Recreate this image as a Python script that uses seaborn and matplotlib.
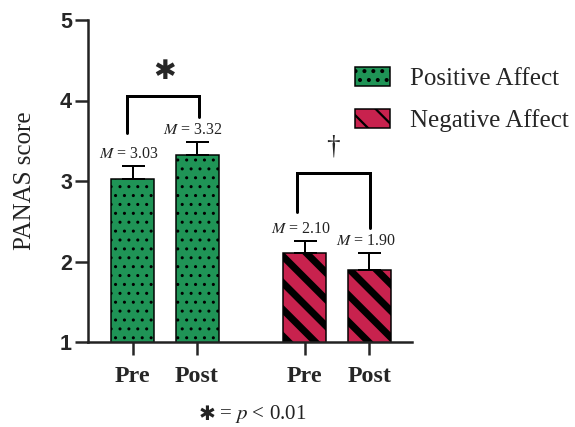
import matplotlib
matplotlib.use("Agg")

import matplotlib.pyplot as plt
import seaborn as sns
import pandas as pd
from matplotlib.patches import Patch

# render at a higher dpi so the hatch cell matches the stripe/dot spacing
DPI = 160


def px(v):
    """pixel size -> points at the chosen dpi"""
    return v * 72 / DPI


groups = ["Positive Affect", "Negative Affect"]
affect = ["Positive Affect", "Positive Affect", "Negative Affect", "Negative Affect"]
time_labels = ["Pre", "Post", "Pre", "Post"]
x_pos = [0.0, 1.0, 2.67, 3.67]
means = [3.03, 3.32, 2.10, 1.90]
sems = [0.16, 0.17, 0.16, 0.20]

colors = {"Positive Affect": "#1f9456", "Negative Affect": "#c8224e"}
hatches = {"Positive Affect": "...", "Negative Affect": "\\\\"}
hatch_lw = {"Positive Affect": px(1.3), "Negative Affect": px(7)}

df = pd.DataFrame({"x": x_pos, "mean": means, "affect": affect, "time": time_labels})

sns.set_style("ticks")
plt.rcParams["font.family"] = ["Liberation Serif", "DejaVu Sans"]
plt.rcParams["mathtext.fontset"] = "stix"

fig = plt.figure(figsize=(575 / DPI, 427 / DPI), dpi=DPI)
ax = fig.add_axes([88 / 575, 85 / 427, 324 / 575, 322 / 427])

for g in groups:
    sub = df[df["affect"] == g]
    n0 = len(ax.patches)
    with plt.rc_context({"hatch.linewidth": hatch_lw[g]}):
        sns.barplot(data=sub, x="x", y="mean", native_scale=True, width=0.667,
                    color=colors[g], saturation=1, edgecolor="black",
                    linewidth=px(1.5), errorbar=None, ax=ax)
    for p in ax.patches[n0:]:
        p.set_hatch(hatches[g])
        if hasattr(p, "set_hatch_linewidth"):
            p.set_hatch_linewidth(hatch_lw[g])

ax.errorbar(x_pos, means, yerr=[[0] * len(sems), sems], fmt="none", ecolor="black",
            elinewidth=px(2), capsize=px(11.5), capthick=px(2), zorder=3)

# mean labels
for x, m, s in zip(x_pos, means, sems):
    ax.text(x - 0.06, m + s + 0.05, f"$M$ = {m:.2f}", ha="center", va="bottom",
            fontsize=px(16), color="#222222")

# significance brackets
lw_br = px(3)
ax.plot([-0.09, -0.09, 1.03, 1.03], [3.60, 4.05, 4.05, 3.80], color="black", lw=lw_br,
        solid_joinstyle="miter")
ax.text(0.49, 4.35, "\u2731", ha="center", va="center", fontsize=px(27),
        family="DejaVu Sans")
ax.plot([2.55, 2.55, 3.68, 3.68], [2.61, 3.10, 3.10, 2.42], color="black", lw=lw_br,
        solid_joinstyle="miter")
ax.text(3.11, 3.42, "\u2020", ha="center", va="center", fontsize=px(27))

ax.set_xlim(-0.69, 4.33)
ax.set_ylim(1, 5)
ax.set_yticks([1, 2, 3, 4, 5])
ax.set_xticks(x_pos)
ax.set_xticklabels(time_labels, fontsize=px(24), fontweight="bold")
for lab in ax.get_yticklabels():
    lab.set_fontfamily("Liberation Sans")
    lab.set_fontweight("bold")
    lab.set_fontsize(px(21.5))
ax.tick_params(axis="y", length=px(13), width=px(2.5), pad=px(3))
ax.tick_params(axis="x", length=px(13), width=px(2.5), pad=px(11))
ax.set_xlabel("")
ax.set_ylabel("PANAS score", fontsize=px(25), color="#222222")
ax.yaxis.set_label_coords(-0.16, 0.5)
sns.despine(ax=ax)
for sp in ("left", "bottom"):
    ax.spines[sp].set_linewidth(px(2.5))
    ax.spines[sp].set_color("#222222")

with plt.rc_context({"hatch.linewidth": hatch_lw["Positive Affect"]}):
    h_pos = Patch(facecolor=colors["Positive Affect"], edgecolor="black",
                  hatch=hatches["Positive Affect"], linewidth=px(1.5), label="Positive Affect")
with plt.rc_context({"hatch.linewidth": hatch_lw["Negative Affect"]}):
    h_neg = Patch(facecolor=colors["Negative Affect"], edgecolor="black",
                  hatch=hatches["Negative Affect"], linewidth=px(1.5), label="Negative Affect")

fig.legend(handles=[h_pos, h_neg], loc="upper left",
           bbox_to_anchor=(355 / 575, 1 - 67 / 427), frameon=False, fontsize=px(25),
           handlelength=1.4, handleheight=0.8, handletextpad=0.8, labelspacing=0.75,
           borderpad=0, borderaxespad=0)

# footnote: the heavy asterisk is not in Liberation Serif, draw it in DejaVu
fig.text(207 / 575, 1 - 414 / 427, "\u2731", ha="center", va="center",
         fontsize=px(20), family="DejaVu Sans", color="#222222")
fig.text(219 / 575, 1 - 414 / 427, "= $p$ < 0.01", ha="left", va="center",
         fontsize=px(21), color="#222222")

fig.savefig("out.png", dpi=DPI)
